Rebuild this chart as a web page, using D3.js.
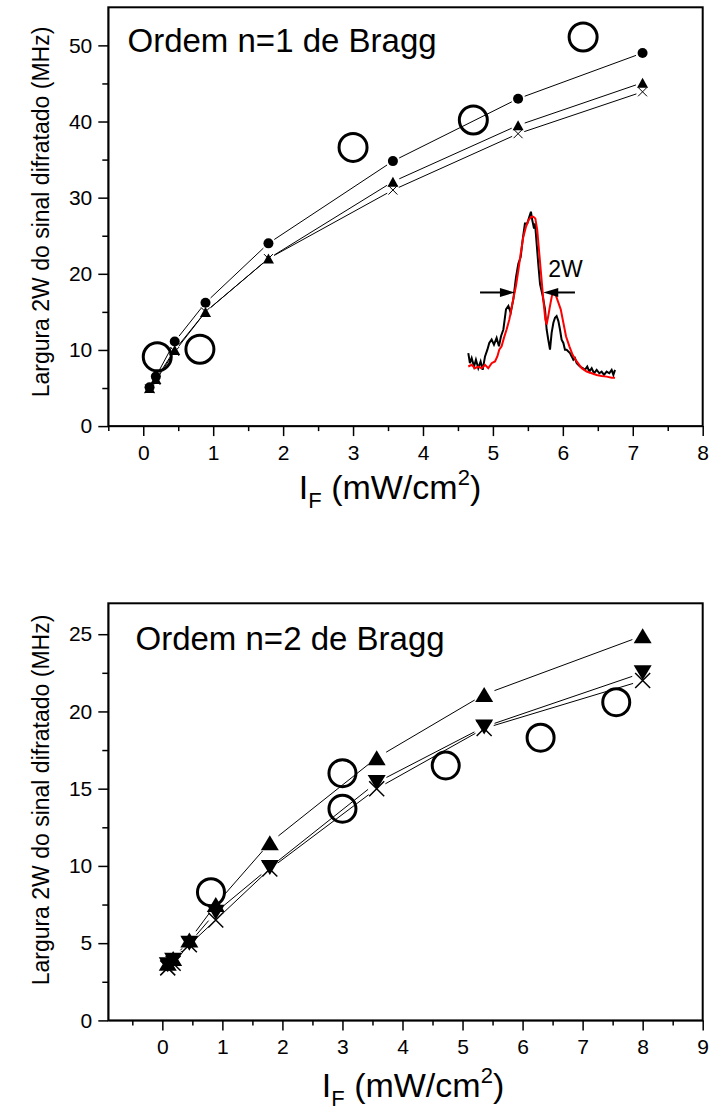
<!DOCTYPE html>
<html><head><meta charset="utf-8">
<script src="https://cdn.jsdelivr.net/npm/d3@7"></script>
<style>
body{margin:0;background:#fff;}
svg{display:block;font-family:Arial,"Liberation Sans",sans-serif;}
</style></head><body>
<svg width="709" height="1115"></svg>
<script>
// --- panel 1: ordem n=1 ---
var xTop = [0.09, 0.18, 0.45, 0.89, 1.79, 3.57, 5.36, 7.14];
var topCircle = [5.1, 6.5, 11.1, 16.2, 24.0, 34.8, 43.0, 49.0];
var topTriangle = [5.0, 6.2, 10.0, 15.0, 22.0, 32.1, 39.5, 45.1];
var topCross = [4.9, 6.0, 9.8, 15.0, 22.0, 31.0, 38.4, 43.9];
var topOpenX = [0.2, 0.81, 3.0, 4.72, 6.29];
var topOpenY = [9.1, 10.1, 36.6, 40.2, 51.1];
var topXTicks = [0, 1, 2, 3, 4, 5, 6, 7, 8];
var topXMinor = [-0.5, 0.5, 1.5, 2.5, 3.5, 4.5, 5.5, 6.5, 7.5];
var topYTicks = [0, 10, 20, 30, 40, 50];
var topYMinor = [5, 15, 25, 35, 45];

// --- panel 2: ordem n=2 ---
var xBot = [0.09, 0.18, 0.45, 0.89, 1.79, 3.57, 5.36, 8.0];
var botUp = [3.7, 4.0, 5.2, 7.5, 11.5, 17.0, 21.1, 24.9];
var botDown = [3.6, 3.9, 5.0, 7.0, 9.9, 15.4, 19.0, 22.5];
var botCross = [3.4, 3.7, 4.9, 6.5, 9.8, 15.0, 18.9, 22.0];
var botOpenX = [0.81, 3.0, 3.0, 4.72, 6.3, 7.56];
var botOpenY = [8.3, 16.0, 13.7, 16.5, 18.3, 20.6];
var botXTicks = [0, 1, 2, 3, 4, 5, 6, 7, 8, 9];
var botXMinor = [-0.5, 0.5, 1.5, 2.5, 3.5, 4.5, 5.5, 6.5, 7.5, 8.5];
var botYTicks = [0, 5, 10, 15, 20, 25];
var botYMinor = [2.5, 7.5, 12.5, 17.5, 22.5];

// --- inset spectrum (arbitrary units) ---
var insBlackX = [0, 1.1, 2.3, 3.9, 5.2, 6.8, 8.4, 9.8, 11.4, 13.0, 14.3, 15.9, 17.5, 19.3, 20.9, 22.3, 23.9, 25.7, 27.3, 28.9, 30.7, 32.5, 34.1, 35.7, 37.0, 38.6, 40.2, 41.6, 42.7, 43.6, 44.8, 45.5, 46.6, 47.7, 48.9, 50.7, 52.3, 53.4, 54.5, 55.7, 56.8, 58.0, 59.1, 60.2, 61.4, 62.5, 63.6, 64.8, 65.9, 67.0, 69.3, 70.5, 71.6, 72.7, 73.9, 76.1, 78.0, 79.5, 81.1, 82.5, 84.1, 85.7, 87.5, 89.3, 90.9, 92.5, 94.3, 96.1, 97.7, 98.9, 100];
var insBlackY = [0.15, 0.09, 0.12, 0.07, 0.11, 0.06, 0.10, 0.05, 0.13, 0.17, 0.21, 0.23, 0.20, 0.24, 0.19, 0.25, 0.29, 0.41, 0.43, 0.39, 0.47, 0.60, 0.68, 0.72, 0.82, 0.92, 0.92, 0.96, 0.99, 0.94, 0.89, 0.92, 0.80, 0.68, 0.56, 0.49, 0.41, 0.29, 0.23, 0.17, 0.27, 0.33, 0.36, 0.37, 0.34, 0.29, 0.23, 0.21, 0.17, 0.17, 0.15, 0.13, 0.11, 0.12, 0.09, 0.07, 0.06, 0.05, 0.07, 0.04, 0.06, 0.03, 0.05, 0.03, 0.04, 0.02, 0.04, 0.03, 0.05, 0.02, 0.05];
var insRedX = [0, 2.3, 4.5, 6.8, 9.1, 11.4, 13.6, 15.9, 18.2, 19.8, 21.1, 22.7, 24.3, 26.1, 28.0, 29.5, 31.1, 32.5, 34.1, 35.7, 37.5, 39.3, 41.1, 43.0, 44.3, 45.7, 47.0, 48.4, 49.8, 51.1, 52.5, 53.4, 54.5, 55.7, 57.0, 58.4, 59.8, 61.4, 63.0, 64.8, 66.6, 68.9, 71.1, 73.9, 77.3, 80.7, 84.1, 87.5, 90.9, 94.3, 97.7, 100];
var insRedY = [0.07, 0.08, 0.06, 0.07, 0.06, 0.08, 0.06, 0.09, 0.10, 0.13, 0.17, 0.19, 0.24, 0.29, 0.35, 0.42, 0.49, 0.55, 0.64, 0.74, 0.84, 0.90, 0.94, 0.96, 0.96, 0.95, 0.88, 0.74, 0.60, 0.47, 0.35, 0.32, 0.37, 0.43, 0.49, 0.51, 0.49, 0.45, 0.41, 0.33, 0.25, 0.19, 0.14, 0.10, 0.06, 0.04, 0.03, 0.02, 0.014, 0.01, 0.004, 0.004];
var insArrowY = 0.51;
var insArrowLeft = [8.0, 31.8];   // from, to
var insArrowRight = [72.7, 51.1]; // from, to

var svg = d3.select("svg");

// segments that stop short of the symbols, like the original plot
function gappedLine(g, xs, ys, x, y, gap) {
  var pts = xs.map(function(v, i) { return [x(v), y(ys[i])]; });
  for (var i = 1; i < pts.length; i++) {
    var p = pts[i - 1], q = pts[i];
    var dx = q[0] - p[0], dy = q[1] - p[1], L = Math.hypot(dx, dy);
    if (L <= 2 * gap) continue;
    var ux = dx / L, uy = dy / L;
    g.append("line")
        .attr("x1", p[0] + ux * gap).attr("y1", p[1] + uy * gap)
        .attr("x2", q[0] - ux * gap).attr("y2", q[1] - uy * gap)
        .attr("stroke", "#000").attr("stroke-width", 1);
  }
}

function triPath(cx, cy, w, h, up) {
  var s = up ? 1 : -1;
  return "M" + cx + "," + (cy - s * h / 2) + "L" + (cx + w / 2) + "," + (cy + s * h / 2) +
         "L" + (cx - w / 2) + "," + (cy + s * h / 2) + "Z";
}
function crossPath(cx, cy, a) {
  return "M" + (cx - a) + "," + (cy - a) + "L" + (cx + a) + "," + (cy + a) +
         "M" + (cx + a) + "," + (cy - a) + "L" + (cx - a) + "," + (cy + a);
}

function panel(o) {
  var x = d3.scaleLinear().domain(o.xDomain).range([108.3, 702.7]);
  var y = d3.scaleLinear().domain(o.yDomain).range([o.bottom, o.top]);
  var g = svg.append("g");

  // minor ticks
  g.append("g").attr("transform", "translate(0," + o.bottom + ")")
      .call(d3.axisBottom(x).tickValues(o.xMinor).tickSize(5).tickSizeOuter(0).tickFormat(""))
      .call(function(a) { a.select(".domain").remove(); });
  g.append("g").attr("transform", "translate(108.3,0)")
      .call(d3.axisLeft(y).tickValues(o.yMinor).tickSize(6).tickSizeOuter(0).tickFormat(""))
      .call(function(a) { a.select(".domain").remove(); });

  // major ticks + labels
  var ax = g.append("g").attr("transform", "translate(0," + o.bottom + ")")
      .call(d3.axisBottom(x).tickValues(o.xTicks).tickSize(10).tickPadding(9).tickSizeOuter(0));
  var ay = g.append("g").attr("transform", "translate(108.3,0)")
      .call(d3.axisLeft(y).tickValues(o.yTicks).tickSize(10).tickPadding(6).tickSizeOuter(0));
  [ax, ay].forEach(function(a) {
    a.attr("font-family", null).attr("font-size", null);
    a.selectAll("text").attr("font-size", 21).attr("fill", "#000");
  });
  g.selectAll(".tick line").attr("stroke-width", 1.5);

  // frame
  g.append("rect")
      .attr("x", x.range()[0]).attr("y", y.range()[1])
      .attr("width", x.range()[1] - x.range()[0])
      .attr("height", y.range()[0] - y.range()[1])
      .attr("fill", "none").attr("stroke", "#000").attr("stroke-width", 2);

  // y label
  g.append("text")
      .attr("transform", "translate(48.5," + o.yLabelMid + ") rotate(-90)")
      .attr("text-anchor", "middle").attr("font-size", 23)
      .text("Largura 2W do sinal difratado (MHz)");

  // x label
  var xt = g.append("text")
      .attr("x", o.xLabelMid).attr("y", o.xLabelBase)
      .attr("text-anchor", "middle").attr("font-size", 34);
  xt.append("tspan").text("I");
  xt.append("tspan").attr("font-size", 22).attr("dy", 9).text("F");
  xt.append("tspan").attr("dy", -9).text(" (mW/cm");
  xt.append("tspan").attr("font-size", 22).attr("dy", -14).text("2");
  xt.append("tspan").attr("dy", 14).text(")");

  // title
  g.append("text")
      .attr("x", o.titleX).attr("y", o.titleY)
      .attr("font-size", 33).text(o.title);

  return {g: g, x: x, y: y};
}

// ---------- top panel ----------
var p1 = panel({
  xDomain: [-0.5, 8], yDomain: [0, 55], top: 7.3, bottom: 426.1,
  xTicks: topXTicks, xMinor: topXMinor, yTicks: topYTicks, yMinor: topYMinor,
  yLabelMid: 212, xLabelMid: 390, xLabelBase: 499,
  titleX: 127.5, titleY: 52, title: "Ordem n=1 de Bragg"
});

gappedLine(p1.g, xTop, topCircle, p1.x, p1.y, 7);
gappedLine(p1.g, xTop, topTriangle, p1.x, p1.y, 7);
gappedLine(p1.g, xTop, topCross, p1.x, p1.y, 6.5);

p1.g.selectAll(".cr").data(xTop).enter().append("path")
    .attr("d", function(d, i) { return crossPath(p1.x(d), p1.y(topCross[i]), 4.5); })
    .attr("stroke", "#000").attr("stroke-width", 1).attr("fill", "none");
p1.g.selectAll(".tr").data(xTop).enter().append("path")
    .attr("d", function(d, i) { return triPath(p1.x(d), p1.y(topTriangle[i]), 11, 10, true); })
    .attr("fill", "#000");
p1.g.selectAll(".ci").data(xTop).enter().append("circle")
    .attr("cx", function(d) { return p1.x(d); })
    .attr("cy", function(d, i) { return p1.y(topCircle[i]); })
    .attr("r", 5).attr("fill", "#000");
p1.g.selectAll(".op").data(topOpenX).enter().append("circle")
    .attr("cx", function(d) { return p1.x(d); })
    .attr("cy", function(d, i) { return p1.y(topOpenY[i]); })
    .attr("r", 14).attr("fill", "none").attr("stroke", "#000").attr("stroke-width", 3);

// inset
var ix = d3.scaleLinear().domain([0, 100]).range([468.3, 615]);
var iy = d3.scaleLinear().domain([0, 1]).range([378.3, 210]);
var insLine = d3.line().x(function(d) { return ix(d[0]); }).y(function(d) { return iy(d[1]); });
p1.g.append("path")
    .attr("d", insLine(insBlackX.map(function(v, i) { return [v, insBlackY[i]]; })))
    .attr("fill", "none").attr("stroke", "#000").attr("stroke-width", 2);
p1.g.append("path")
    .attr("d", insLine(insRedX.map(function(v, i) { return [v, insRedY[i]]; })))
    .attr("fill", "none").attr("stroke", "#ff0000").attr("stroke-width", 2);

[insArrowLeft, insArrowRight].forEach(function(a) {
  var x1 = ix(a[0]), x2 = ix(a[1]), yy = iy(insArrowY), s = x2 > x1 ? 1 : -1;
  p1.g.append("line").attr("x1", x1).attr("x2", x2 - s * 6).attr("y1", yy).attr("y2", yy)
      .attr("stroke", "#000").attr("stroke-width", 2);
  p1.g.append("path")
      .attr("d", "M" + x2 + "," + yy + "L" + (x2 - s * 15) + "," + (yy - 4.5) + "L" + (x2 - s * 15) + "," + (yy + 4.5) + "Z")
      .attr("fill", "#000");
});
p1.g.append("text").attr("x", ix(54.5)).attr("y", iy(0.604))
    .attr("font-size", 23).text("2W");

// ---------- bottom panel ----------
var p2 = panel({
  xDomain: [-0.9, 9], yDomain: [0, 27], top: 603.3, bottom: 1020.4,
  xTicks: botXTicks, xMinor: botXMinor, yTicks: botYTicks, yMinor: botYMinor,
  yLabelMid: 800, xLabelMid: 413, xLabelBase: 1097,
  titleX: 135.5, titleY: 650, title: "Ordem n=2 de Bragg"
});

gappedLine(p2.g, xBot, botUp, p2.x, p2.y, 11);
gappedLine(p2.g, xBot, botDown, p2.x, p2.y, 11);
gappedLine(p2.g, xBot, botCross, p2.x, p2.y, 10);

p2.g.selectAll(".cr").data(xBot).enter().append("path")
    .attr("d", function(d, i) { return crossPath(p2.x(d), p2.y(botCross[i]), 7.5); })
    .attr("stroke", "#000").attr("stroke-width", 1.5).attr("fill", "none");
p2.g.selectAll(".dn").data(xBot).enter().append("path")
    .attr("d", function(d, i) { return triPath(p2.x(d), p2.y(botDown[i]), 18, 15, false); })
    .attr("fill", "#000");
p2.g.selectAll(".up").data(xBot).enter().append("path")
    .attr("d", function(d, i) { return triPath(p2.x(d), p2.y(botUp[i]), 18, 15, true); })
    .attr("fill", "#000");
p2.g.selectAll(".op").data(botOpenX).enter().append("circle")
    .attr("cx", function(d) { return p2.x(d); })
    .attr("cy", function(d, i) { return p2.y(botOpenY[i]); })
    .attr("r", 13.5).attr("fill", "none").attr("stroke", "#000").attr("stroke-width", 3);
</script>
</body></html>
